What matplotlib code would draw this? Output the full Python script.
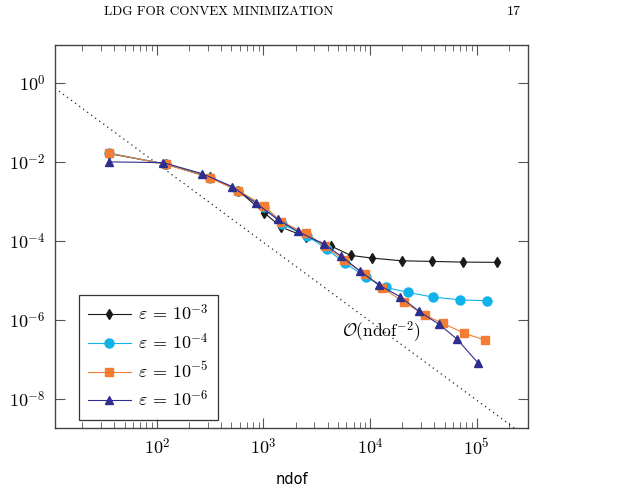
import numpy as np
import matplotlib
matplotlib.use("Agg")
import matplotlib.pyplot as plt
from matplotlib.ticker import FuncFormatter, LogLocator, NullLocator, NullFormatter

plt.rcParams['mathtext.fontset'] = 'cm'

# data (ndof, error)
ndof_3 = [36, 121, 316, 582, 1010, 1460, 2500, 4260, 6580, 10350, 19770, 37760, 74700, 155600]
err_3 = [1.65e-2, 9.0e-3, 4.2e-3, 1.9e-3, 5.3e-4, 2.3e-4, 1.27e-4, 7.6e-5, 4.36e-5, 3.73e-5,
         3.18e-5, 3.07e-5, 2.95e-5, 2.9e-5]

ndof_4 = [36, 121, 316, 582, 1010, 1483, 2578, 3970, 5820, 9160, 14100, 22800, 39100, 69700, 125400]
err_4 = [1.7e-2, 9.0e-3, 4.1e-3, 1.9e-3, 7.4e-4, 2.72e-4, 1.35e-4, 6.2e-5, 2.73e-5, 1.25e-5,
         6.7e-6, 5.0e-6, 3.81e-6, 3.26e-6, 3.07e-6]

ndof_5 = [36, 121, 316, 582, 1014, 1462, 2506, 3776, 5728, 8954, 13000, 20930, 32500, 48500, 75900, 120200]
err_5 = [1.69e-2, 8.9e-3, 4.06e-3, 1.87e-3, 7.9e-4, 3.14e-4, 1.58e-4, 7.5e-5, 3.3e-5, 1.44e-5,
         6.6e-6, 2.8e-6, 1.33e-6, 8.2e-7, 4.66e-7, 3.09e-7]

ndof_6 = [36, 115, 268, 511, 853, 1355, 2089, 3700, 5337, 8040, 12100, 19050, 28900, 44400, 65500, 101700]
err_6 = [1.02e-2, 9.77e-3, 5.1e-3, 2.4e-3, 9.1e-4, 3.57e-4, 1.77e-4, 8.4e-5, 4.18e-5, 1.74e-5,
         7.7e-6, 3.93e-6, 1.65e-6, 7.8e-7, 3.27e-7, 8.4e-8]

labels = [r'$\varepsilon \,=\, 10^{-3}$', r'$\varepsilon \,=\, 10^{-4}$',
          r'$\varepsilon \,=\, 10^{-5}$', r'$\varepsilon \,=\, 10^{-6}$']

# reference slope O(ndof^-2)
ref_const = 93.0
ref_x = [11.1, 302000]

fig = plt.figure(figsize=(6.27, 4.97), dpi=100)
ax = fig.add_axes([0.0877, 0.1388, 0.7544, 0.7712])
ax.set_xscale("log")
ax.set_yscale("log")

rx = np.array(ref_x, dtype=float)
ax.plot(rx, ref_const * rx**-2.0, color="#222222", lw=0.9, linestyle=(0, (1, 3)))

ax.plot(ndof_3, err_3, color="#1a1a1a", lw=0.8, marker="d", ms=5, label=labels[0])
ax.plot(ndof_4, err_4, color="#10b2ea", lw=0.8, marker="o", ms=6.5, label=labels[1])
ax.plot(ndof_5, err_5, color="#f47d32", lw=0.8, marker="s", ms=5.5, label=labels[2])
ax.plot(ndof_6, err_6, color="#2e2e8f", lw=0.8, marker="^", ms=5.5, label=labels[3])

ax.text(5460, 5e-7, r'$\mathcal{O}(\mathrm{ndof}^{-2})$', fontsize=12.5, ha="left", va="center")

ax.set_xlim(11.1, 302000)
ax.set_ylim(1.84e-9, 9.5)

ax.set_yticks([1e-8, 1e-6, 1e-4, 1e-2, 1])
ax.yaxis.set_minor_locator(NullLocator())
ax.xaxis.set_major_locator(LogLocator(base=10))
ax.xaxis.set_minor_locator(LogLocator(base=10, subs=np.arange(2, 10)))
ax.xaxis.set_minor_formatter(NullFormatter())
fmt = FuncFormatter(lambda v, p: r'$10^{%d}$' % int(round(np.log10(v))))
ax.xaxis.set_major_formatter(fmt)
ax.yaxis.set_major_formatter(fmt)
ax.tick_params(which="both", direction="in", top=True, right=True, labelsize=13, color="#555555")
ax.tick_params(which="major", length=7, width=0.8, pad=7)
ax.tick_params(which="minor", length=4, width=0.6)
for s in ax.spines.values():
    s.set_color("#444444")
    s.set_linewidth(1.0)

ax.set_xlabel("ndof", fontsize=10.5, labelpad=10)

leg = ax.legend(loc="lower left", bbox_to_anchor=(0.05, 0.022), fontsize=13, frameon=True,
                fancybox=False, edgecolor="black", handlelength=2.4, handletextpad=0.4,
                borderpad=0.5, labelspacing=0.45, borderaxespad=0)
leg.get_frame().set_linewidth(0.9)

fig.text(0.348, 0.975, "LDG FOR CONVEX MINIMIZATION", fontfamily="cmr10", fontsize=9.5,
         ha="center", va="center")
fig.text(0.82, 0.975, "17", fontfamily="cmr10", fontsize=10, ha="center", va="center")

fig.savefig("out.png", dpi=100)
